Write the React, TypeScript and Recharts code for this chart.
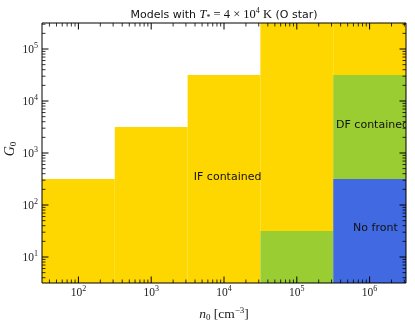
import React from 'react';
import { ComposedChart, XAxis, YAxis, ReferenceArea, Scatter } from 'recharts';

// cell centres (log10 values) of the model grid
const n0Exponents = [2, 3, 4, 5, 6];
const g0Exponents = [1, 2, 3, 4, 5];

// region outcome per G0 row (bottom to top), one entry per n0 column
const rowG0_1e1 = ['IF', 'IF', 'IF', 'DF', 'NF'];
const rowG0_1e2 = ['IF', 'IF', 'IF', 'IF', 'NF'];
const rowG0_1e3 = ['', 'IF', 'IF', 'IF', 'DF'];
const rowG0_1e4 = ['', '', 'IF', 'IF', 'DF'];
const rowG0_1e5 = ['', '', '', 'IF', 'IF'];
const regionRows = [rowG0_1e1, rowG0_1e2, rowG0_1e3, rowG0_1e4, rowG0_1e5];

const regionColors: Record<string, string> = {
  IF: '#FFD700',
  DF: '#9ACD32',
  NF: '#4169E1',
};

// annotation texts and their positions (log10 n0, log10 G0)
const labelTexts = ['IF contained', 'DF contained', 'No front'];
const labelN0 = [4.05, 6.04, 6.08];
const labelG0 = [2.55, 3.54, 1.56];

const xDomain = [1.5, 6.5];
const yDomain = [0.5, 5.5];

const minorTicks = (lo: number, hi: number) => {
  const out: number[] = [];
  for (let n = Math.floor(lo); n <= Math.ceil(hi); n++) {
    for (let k = 1; k <= 9; k++) {
      const v = n + Math.log10(k);
      if (v >= lo - 1e-9 && v <= hi + 1e-9) out.push(v);
    }
  }
  return out;
};
const xTicks = minorTicks(xDomain[0], xDomain[1]);
const yTicks = minorTicks(yDomain[0], yDomain[1]);

const cells: { x1: number; x2: number; y1: number; y2: number; color: string }[] = [];
regionRows.forEach((row, j) => {
  row.forEach((code, i) => {
    if (!code) return;
    cells.push({
      x1: n0Exponents[i] - 0.5,
      x2: n0Exponents[i] + 0.5,
      y1: g0Exponents[j] - 0.5,
      y2: g0Exponents[j] + 0.5,
      color: regionColors[code],
    });
  });
});

const labelData = labelTexts.map((t, i) => ({ x: labelN0[i], y: labelG0[i], text: t }));

const SERIF = '"Liberation Serif", "DejaVu Serif", serif';
const SANS = '"DejaVu Sans", sans-serif';
const MAJ = 6.5;
const MIN = 3.5;

const isMajor = (v: number) => Math.abs(v - Math.round(v)) < 1e-6;

const BottomTick = (props: any) => {
  const { x, y, payload } = props;
  const v = payload.value;
  const major = isMajor(v);
  return (
    <g>
      <line x1={x} x2={x} y1={y} y2={y - (major ? MAJ : MIN)} stroke="#000" strokeWidth={major ? 1 : 0.8} />
      {major && (
        <text x={x} y={y + 13} textAnchor="middle" fontFamily={SERIF} fontSize={11.5} fill="#222">
          10<tspan dy={-5} fontSize={8}>{Math.round(v)}</tspan>
        </text>
      )}
    </g>
  );
};

const TopTick = (props: any) => {
  const { x, y, payload } = props;
  const major = isMajor(payload.value);
  return <line x1={x} x2={x} y1={y} y2={y + (major ? MAJ : MIN)} stroke="#000" strokeWidth={major ? 1 : 0.8} />;
};

const LeftTick = (props: any) => {
  const { x, y, payload } = props;
  const v = payload.value;
  const major = isMajor(v);
  return (
    <g>
      <line x1={x} x2={x + (major ? MAJ : MIN)} y1={y} y2={y} stroke="#000" strokeWidth={major ? 1 : 0.8} />
      {major && (
        <text x={x - 4} y={y + 4} textAnchor="end" fontFamily={SERIF} fontSize={11.5} fill="#222">
          10<tspan dy={-5} fontSize={8}>{Math.round(v)}</tspan>
        </text>
      )}
    </g>
  );
};

const RightTick = (props: any) => {
  const { x, y, payload } = props;
  const major = isMajor(payload.value);
  return <line x1={x} x2={x - (major ? MAJ : MIN)} y1={y} y2={y} stroke="#000" strokeWidth={major ? 1 : 0.8} />;
};

const LabelShape = (props: any) => {
  const { cx, cy, payload } = props;
  return (
    <text x={cx} y={cy} textAnchor="middle" dominantBaseline="central" fontFamily={SANS} fontSize={11} fill="#111">
      {payload.text}
    </text>
  );
};

export default function App() {
  return (
    <div style={{ position: 'fixed', left: 0, top: 0, width: 415, height: 323, overflow: 'hidden' }}>
      <ComposedChart
        width={415}
        height={323}
        margin={{ top: 22, right: 8, bottom: 1, left: 0 }}
        data={labelData}
      >
        {cells.map((c, i) => (
          <ReferenceArea
            key={i}
            xAxisId="b"
            yAxisId="l"
            x1={c.x1}
            x2={c.x2}
            y1={c.y1}
            y2={c.y2}
            fill={c.color}
            fillOpacity={1}
            stroke="none"
            ifOverflow="visible"
          />
        ))}
        <Scatter
          xAxisId="b"
          yAxisId="l"
          data={labelData}
          dataKey="y"
          shape={LabelShape}
          isAnimationActive={false}
        />
        <XAxis
          xAxisId="b"
          dataKey="x"
          type="number"
          orientation="bottom"
          domain={xDomain}
          ticks={xTicks}
          interval={0}
          allowDataOverflow
          height={39}
          tickSize={0}
          tickMargin={0}
          tickLine={false}
          axisLine={{ stroke: '#000', strokeWidth: 1 }}
          tick={BottomTick}
        />
        <XAxis
          xAxisId="t"
          dataKey="x"
          type="number"
          orientation="top"
          domain={xDomain}
          ticks={xTicks}
          interval={0}
          allowDataOverflow
          height={1}
          tickSize={0}
          tickMargin={0}
          tickLine={false}
          axisLine={{ stroke: '#000', strokeWidth: 1 }}
          tick={TopTick}
        />
        <YAxis
          yAxisId="l"
          dataKey="y"
          type="number"
          orientation="left"
          domain={yDomain}
          ticks={yTicks}
          interval={0}
          allowDataOverflow
          width={42}
          tickSize={0}
          tickMargin={0}
          tickLine={false}
          axisLine={{ stroke: '#000', strokeWidth: 1 }}
          tick={LeftTick}
        />
        <YAxis
          yAxisId="r"
          dataKey="y"
          type="number"
          orientation="right"
          domain={yDomain}
          ticks={yTicks}
          interval={0}
          allowDataOverflow
          width={1}
          tickSize={0}
          tickMargin={0}
          tickLine={false}
          axisLine={{ stroke: '#000', strokeWidth: 1 }}
          tick={RightTick}
        />
      </ComposedChart>
      <div
        style={{
          position: 'absolute',
          left: 42,
          width: 364,
          top: 4,
          textAlign: 'center',
          fontFamily: SANS,
          fontSize: 11,
          lineHeight: '14px',
          color: '#111',
          whiteSpace: 'nowrap',
        }}
      >
        Models with{' '}
        <span style={{ fontFamily: SERIF, fontSize: 12.5 }}>
          <i>T</i>
          <sub style={{ fontSize: 8, verticalAlign: '-2px' }}>*</sub> = 4 × 10
          <sup style={{ fontSize: 8, verticalAlign: '5px' }}>4</sup> K
        </span>{' '}
        (O star)
      </div>
      <div
        style={{
          position: 'absolute',
          left: 42,
          width: 364,
          top: 302,
          textAlign: 'center',
          fontFamily: SERIF,
          fontSize: 13.5,
          lineHeight: '16px',
          color: '#222',
          whiteSpace: 'nowrap',
        }}
      >
        <i>n</i>
        <sub style={{ fontSize: 9, verticalAlign: '-2px' }}>0</sub> [cm
        <sup style={{ fontSize: 9, verticalAlign: '5px' }}>−3</sup>]
      </div>
      <div
        style={{
          position: 'absolute',
          left: -10,
          top: 141,
          width: 40,
          height: 16,
          textAlign: 'center',
          transform: 'rotate(-90deg)',
          fontFamily: SERIF,
          fontSize: 14,
          lineHeight: '16px',
          color: '#222',
        }}
      >
        <i>G</i>
        <sub style={{ fontSize: 9, verticalAlign: '-2px' }}>0</sub>
      </div>
    </div>
  );
}
